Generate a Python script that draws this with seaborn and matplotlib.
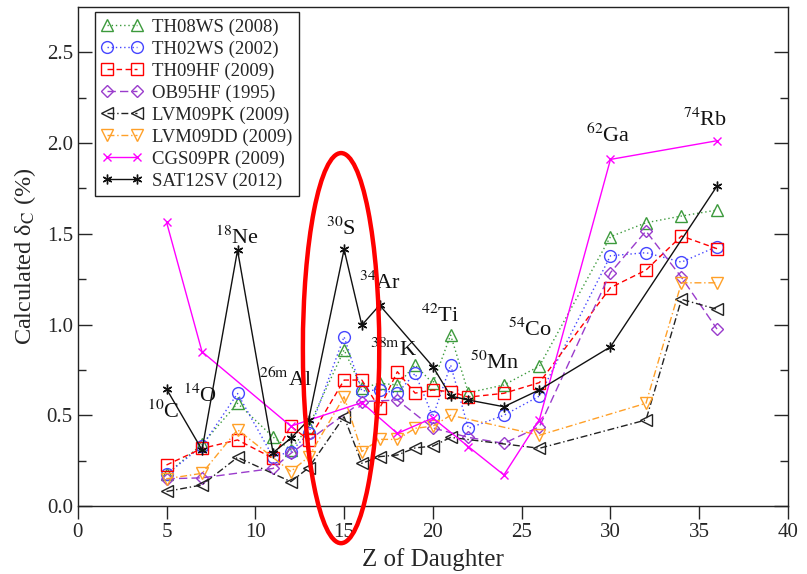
import numpy as np
import pandas as pd
import matplotlib
matplotlib.use("Agg")
import matplotlib.pyplot as plt
import seaborn as sns
from matplotlib.patches import Ellipse

# ---------------- data ----------------
th08ws_z = [5, 7, 9, 11, 12, 13, 15, 16, 17, 18, 19, 20, 21, 22, 24, 26, 30, 32, 34, 36]
th08ws_d = [0.175, 0.34, 0.566, 0.38, 0.31, 0.437, 0.86, 0.65, 0.676, 0.667, 0.777, 0.676,
            0.942, 0.624, 0.667, 0.771, 1.484, 1.561, 1.598, 1.631]

th02ws_z = [5, 7, 9, 11, 12, 13, 15, 16, 17, 18, 19, 20, 21, 22, 24, 26, 30, 32, 34, 36]
th02ws_d = [0.175, 0.33, 0.62, 0.27, 0.30, 0.40, 0.933, 0.634, 0.64, 0.622, 0.731, 0.492,
            0.777, 0.428, 0.50, 0.606, 1.379, 1.396, 1.344, 1.43]

th09hf_z = [5, 7, 9, 11, 12, 13, 15, 16, 17, 18, 19, 20, 21, 22, 24, 26, 30, 32, 34, 36]
th09hf_d = [0.226, 0.317, 0.364, 0.263, 0.44, 0.364, 0.694, 0.694, 0.538, 0.74, 0.622, 0.639,
            0.63, 0.60, 0.621, 0.68, 1.203, 1.30, 1.488, 1.418]

ob95hf_z = [5, 7, 11, 12, 16, 18, 20, 22, 24, 26, 30, 32, 34, 36]
ob95hf_d = [0.15, 0.155, 0.207, 0.29, 0.575, 0.584, 0.43, 0.378, 0.345, 0.437,
            1.286, 1.515, 1.26, 0.975]

lvm09pk_z = [5, 7, 9, 12, 13, 15, 16, 17, 18, 19, 20, 21, 26, 32, 34, 36]
lvm09pk_d = [0.08, 0.116, 0.268, 0.134, 0.21, 0.492, 0.235, 0.272, 0.281, 0.32, 0.33,
             0.378, 0.318, 0.474, 1.139, 1.084]

lvm09dd_z = [5, 7, 9, 12, 13, 15, 16, 17, 18, 19, 20, 21, 26, 32, 34, 36]
lvm09dd_d = [0.15, 0.18, 0.42, 0.19, 0.27, 0.602, 0.30, 0.367, 0.367, 0.428, 0.44,
             0.50, 0.39, 0.566, 1.23, 1.23]

cgs09pr_z = [5, 7, 12, 16, 18, 20, 22, 24, 26, 30, 36]
cgs09pr_d = [1.565, 0.85, 0.44, 0.57, 0.40, 0.485, 0.327, 0.171, 0.476, 1.91, 2.013]

sat12sv_z = [5, 7, 9, 11, 12, 13, 15, 16, 17, 20, 21, 22, 24, 26, 30, 36]
sat12sv_d = [0.645, 0.309, 1.41, 0.294, 0.373, 0.474, 1.414, 0.997, 1.107, 0.768, 0.606,
             0.584, 0.547, 0.64, 0.877, 1.763]

series_names = ["TH08WS (2008)", "TH02WS (2002)", "TH09HF (2009)", "OB95HF (1995)",
                "LVM09PK (2009)", "LVM09DD (2009)", "CGS09PR (2009)", "SAT12SV (2012)"]

nuclei_labels = ["$^{10}$C", "$^{14}$O", "$^{18}$Ne", "$^{\\mathrm{26m}}$Al", "$^{30}$S",
                 "$^{34}$Ar", "$^{\\mathrm{38m}}$K", "$^{42}$Ti", "$^{50}$Mn", "$^{54}$Co",
                 "$^{62}$Ga", "$^{74}$Rb"]
nuclei_z = [4.8, 6.9, 9.0, 11.7, 14.8, 17.0, 17.8, 20.4, 23.5, 25.5, 29.9, 35.3]
nuclei_v = [0.52, 0.61, 1.48, 0.70, 1.53, 1.23, 0.86, 1.05, 0.79, 0.97, 2.04, 2.13]

xticks = [0, 5, 10, 15, 20, 25, 30, 35, 40]
yticks = [0.0, 0.5, 1.0, 1.5, 2.0, 2.5]

# ---------------- styling ----------------
sns.set_style("ticks")
plt.rcParams["font.family"] = ["Liberation Serif", "DejaVu Serif"]
plt.rcParams["mathtext.fontset"] = "stix"

styles = [
    dict(color="#3c9a3c", marker="^", linestyle=(0, (1, 2))),
    dict(color="#4646ff", marker="o", linestyle=(0, (1, 2))),
    dict(color="#ff0000", marker="s", linestyle=(0, (4, 2.5))),
    dict(color="#9a3ccc", marker="D", linestyle=(0, (6, 3))),
    dict(color="#222222", marker="<", linestyle=(0, (5, 2, 1, 2))),
    dict(color="#ffa028", marker="v", linestyle=(0, (5, 2, 1, 2))),
    dict(color="#ff00ff", marker="x", linestyle="-"),
    dict(color="#111111", marker=(6, 2, 0), linestyle="-"),
]
msizes = [8, 8.5, 8, 6, 8, 8, 6, 7]

zs = [th08ws_z, th02ws_z, th09hf_z, ob95hf_z, lvm09pk_z, lvm09dd_z, cgs09pr_z, sat12sv_z]
ds = [th08ws_d, th02ws_d, th09hf_d, ob95hf_d, lvm09pk_d, lvm09dd_d, cgs09pr_d, sat12sv_d]

fig = plt.figure(figsize=(8.07, 5.74), dpi=100)
ax = fig.add_axes([0.0963, 0.1185, 0.8802, 0.8693])

for name, z, d, st, ms in zip(series_names, zs, ds, styles, msizes):
    df = pd.DataFrame({"Z": z, "dC": d})
    filled = st["marker"] in ("x",) or isinstance(st["marker"], tuple)
    mfc = st["color"] if filled else "none"
    sns.lineplot(data=df, x="Z", y="dC", ax=ax, label=name,
                 color=st["color"], marker=st["marker"], linestyle=st["linestyle"],
                 markersize=ms, markerfacecolor=mfc, markeredgecolor=st["color"],
                 markeredgewidth=1.0, linewidth=1.0)

for lab, zx, vy in zip(nuclei_labels, nuclei_z, nuclei_v):
    ax.text(zx, vy, lab, fontsize=16, ha="center", va="center", color="#111111")

ell = Ellipse((14.83, 0.87), width=4.3, height=2.15, fill=False, edgecolor="#ff0000",
              linewidth=3.2, clip_on=False, zorder=10)
ax.add_patch(ell)

ax.set_xlim(0, 40)
ax.set_ylim(0, 2.75)
ax.set_xticks(xticks)
ax.set_yticks(yticks)
ax.set_yticks(np.arange(0.25, 2.75, 0.5), minor=True)
ax.set_xticklabels([str(t) for t in xticks])
ax.set_yticklabels([f"{t:.1f}" for t in yticks])
ax.tick_params(axis="x", which="major", direction="out", length=9, width=1.0,
               labelsize=15, top=False)
ax.tick_params(axis="y", which="major", direction="in", length=10, width=1.0,
               labelsize=15, right=True)
ax.tick_params(axis="y", which="minor", direction="in", length=5.5, width=1.0, right=True)
for sp in ax.spines.values():
    sp.set_visible(True)
    sp.set_linewidth(1.0)
    sp.set_color("#222222")

ax.set_xlabel("Z of Daughter", fontsize=18, labelpad=4)
ax.set_ylabel("Calculated δ$_\\mathrm{C}$ (%)", fontsize=17.5, labelpad=6)

leg = ax.legend(loc="upper left", bbox_to_anchor=(0.024, 0.99), fontsize=13.5,
                handlelength=2.2, numpoints=2, frameon=True, fancybox=False,
                edgecolor="#222222", framealpha=1.0, borderpad=0.35,
                labelspacing=0.25, handletextpad=0.5, borderaxespad=0.0)
leg.get_frame().set_linewidth(1.0)

fig.savefig("out.png", dpi=100)
